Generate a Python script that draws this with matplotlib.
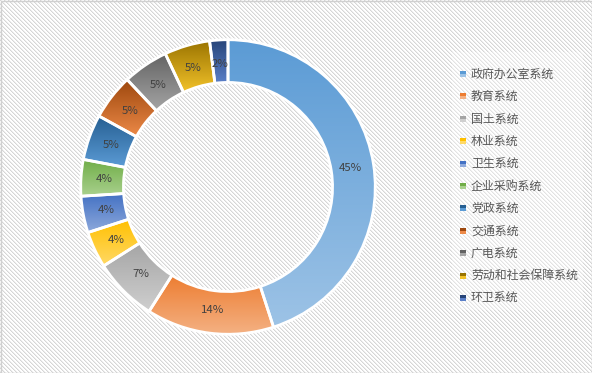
import numpy as np
import matplotlib
matplotlib.use("Agg")
import matplotlib.pyplot as plt
from matplotlib.patches import Rectangle
from matplotlib.colors import to_rgb

plt.rcParams['font.family'] = ['Noto Sans CJK SC', 'DejaVu Sans']

categories = ['政府办公室系统', '教育系统', '国土系统', '林业系统', '卫生系统',
              '企业采购系统', '党政系统', '交通系统', '广电系统', '劳动和社会保障系统', '环卫系统']
values = [45, 14, 7, 4, 4, 4, 5, 5, 5, 5, 2]
top_colors = ['#5b9bd5', '#ed7d31', '#a5a5a5', '#ffc000', '#4472c4', '#70ad47',
              '#255e91', '#9e480e', '#636363', '#997300', '#264478']
bottom_colors = ['#9dc3e6', '#f4b183', '#cfcfcf', '#ffd966', '#8faadc', '#a9d18e',
                 '#5b9bd5', '#ed8a48', '#a5a5a5', '#f2c22a', '#5a7fc8']

W, H, DPI = 592, 373, 100
fig = plt.figure(figsize=(W / DPI, H / DPI), dpi=DPI)

# background diagonal pattern
bg_ax = fig.add_axes([0, 0, 1, 1], zorder=-10)
yy, xx = np.mgrid[0:H, 0:W]
m = (xx - yy) % 4
img = np.ones((H, W, 3))
img[m == 0] = 0.84
img[m == 1] = 0.93
bg_ax.imshow(img, interpolation='nearest', aspect='auto', extent=[0, W, H, 0])
bg_ax.set_xlim(0, W)
bg_ax.set_ylim(H, 0)
bg_ax.axis('off')
# legend area lighter
bg_ax.add_patch(Rectangle((452, 52), 131, 258, facecolor='white', alpha=0.3, edgecolor='none'))
# outer border
bg_ax.add_patch(Rectangle((0.5, 0.5), W - 1, H - 1, facecolor='none', edgecolor='#d0d0d0', lw=1))

# donut
cx, cy, R = 228, 187, 148
ax = fig.add_axes([(cx - R) / W, (H - cy - R) / H, 2 * R / W, 2 * R / H])
wedges, _ = ax.pie(values, startangle=90, counterclock=False, radius=1.0,
                   wedgeprops=dict(width=0.29, edgecolor='white', linewidth=2))

for w, tc, bc, v in zip(wedges, top_colors, bottom_colors, values):
    bb = w.get_path().get_extents(w.get_patch_transform())
    t = np.linspace(0, 1, 256)[:, None]
    c0 = np.array(to_rgb(tc)); c1 = np.array(to_rgb(bc))
    grad = (c0[None, :] * (1 - t) + c1[None, :] * t)[:, None, :]
    grad = np.repeat(grad, 2, axis=1)
    im = ax.imshow(grad, extent=[bb.x0, bb.x1, bb.y0, bb.y1], origin='upper',
                   aspect='auto', interpolation='bilinear', zorder=1)
    im.set_clip_path(w)
    w.set_facecolor('none')
    w.set_zorder(2)
    ang = np.deg2rad((w.theta1 + w.theta2) / 2)
    r = 0.84
    ax.text(r * np.cos(ang), r * np.sin(ang), f'{v}%', ha='center', va='center',
            fontsize=8.2, color='#404040', zorder=3)
ax.set_xlim(-1.005, 1.005)
ax.set_ylim(-1.005, 1.005)
ax.set_aspect('equal')
ax.axis('off')

# legend
y0, step = 74, 22.4
for i, (cat, tc, bc) in enumerate(zip(categories, top_colors, bottom_colors)):
    y = y0 + i * step
    bg_ax.add_patch(Rectangle((460, y - 3), 6, 3, facecolor=tc, edgecolor='none'))
    bg_ax.add_patch(Rectangle((460, y), 6, 3, facecolor=bc, edgecolor='none'))
    bg_ax.text(471, y, cat, ha='left', va='center', fontsize=8.6, color='#595959')

fig.savefig('out.png', dpi=DPI)
